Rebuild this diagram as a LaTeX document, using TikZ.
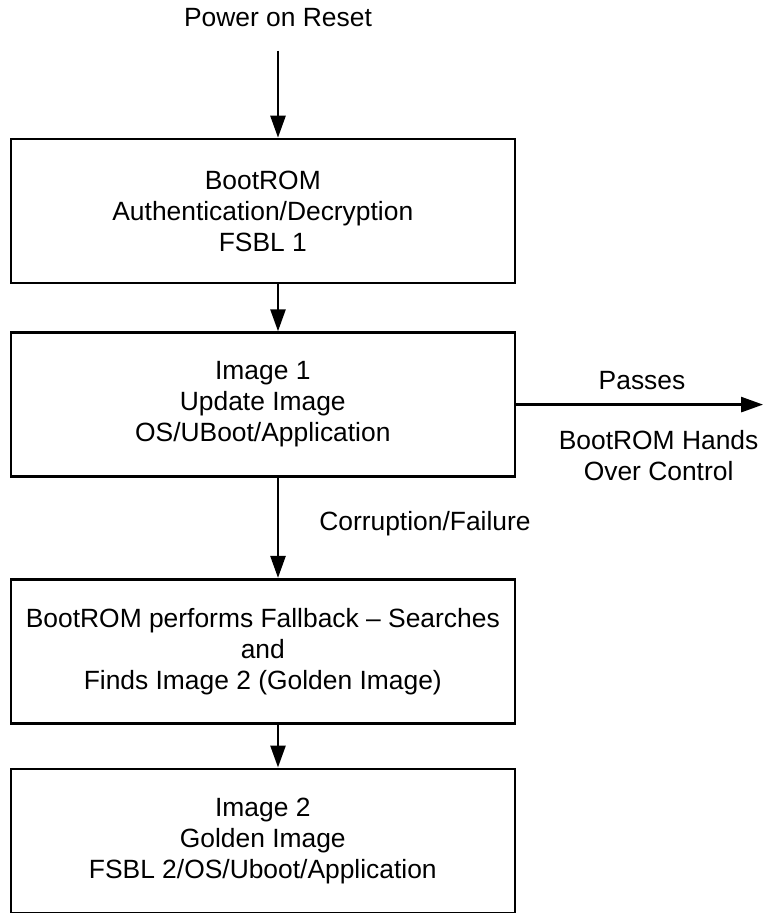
\documentclass[tikz,border=0pt]{standalone}
\usepackage{fontspec}
\setmainfont{Liberation Sans}
\usetikzlibrary{arrows.meta, positioning}

\begin{document}
\begin{tikzpicture}[
  block/.style = {draw, line width=1.3pt, minimum height=72pt, minimum width=252pt, align=center, inner sep=2pt},
  lbl/.style   = {inner sep=2pt, align=center},
  arrow/.style = {line width=1.3pt, -{Triangle[length=11pt, width=7.5pt]}},
  font=\fontsize{13.2pt}{15.5pt}\selectfont,
  node distance=23.5pt
]
  \useasboundingbox (0,0) rectangle (382pt,-456.5pt);

  % Reset input
  \node[lbl, anchor=base] (por) at (139pt,-13.5pt) {Power on Reset};

  % First stage
  \node[block] (boot) at (131.4pt,-105.5pt) {BootROM\\ Authentication/Decryption\\ FSBL 1};

  % Update image (below boot)
  \node[block, below=23.5pt of boot] (img1) {Image 1\\ Update Image\\ OS/UBoot/Application};

  % Fallback
  \node[block, below=50pt of img1] (fall) {BootROM performs Fallback -- Searches\\ and\\ Finds Image 2 (Golden Image)};

  % Golden image
  \node[block, below=21.5pt of fall] (gold) {Image 2\\ Golden Image\\ FSBL 2/OS/Uboot/Application};

  \path (img1.east) ++(123.5pt,0) coordinate (exit);

  % Connections
  \draw[arrow, shorten <=9.5pt] (por.south) -- (por.south |- boot.north);
  \draw[arrow] ([xshift=7.6pt]boot.south) -- ([xshift=7.6pt]img1.north);
  \draw[arrow] ([xshift=7.6pt]img1.south) -- node[lbl, right=18pt, yshift=2pt] {Corruption/Failure} ([xshift=7.6pt]fall.north);
  \draw[arrow] ([xshift=7.6pt]fall.south) -- ([xshift=7.6pt]gold.north);
  \draw[arrow] (img1.east) -- node[lbl, above=5pt, xshift=1.2pt] {Passes}
                              node[lbl, below=10.4pt, xshift=9.5pt] {BootROM Hands\\ Over Control} (exit);

\end{tikzpicture}
\end{document}
